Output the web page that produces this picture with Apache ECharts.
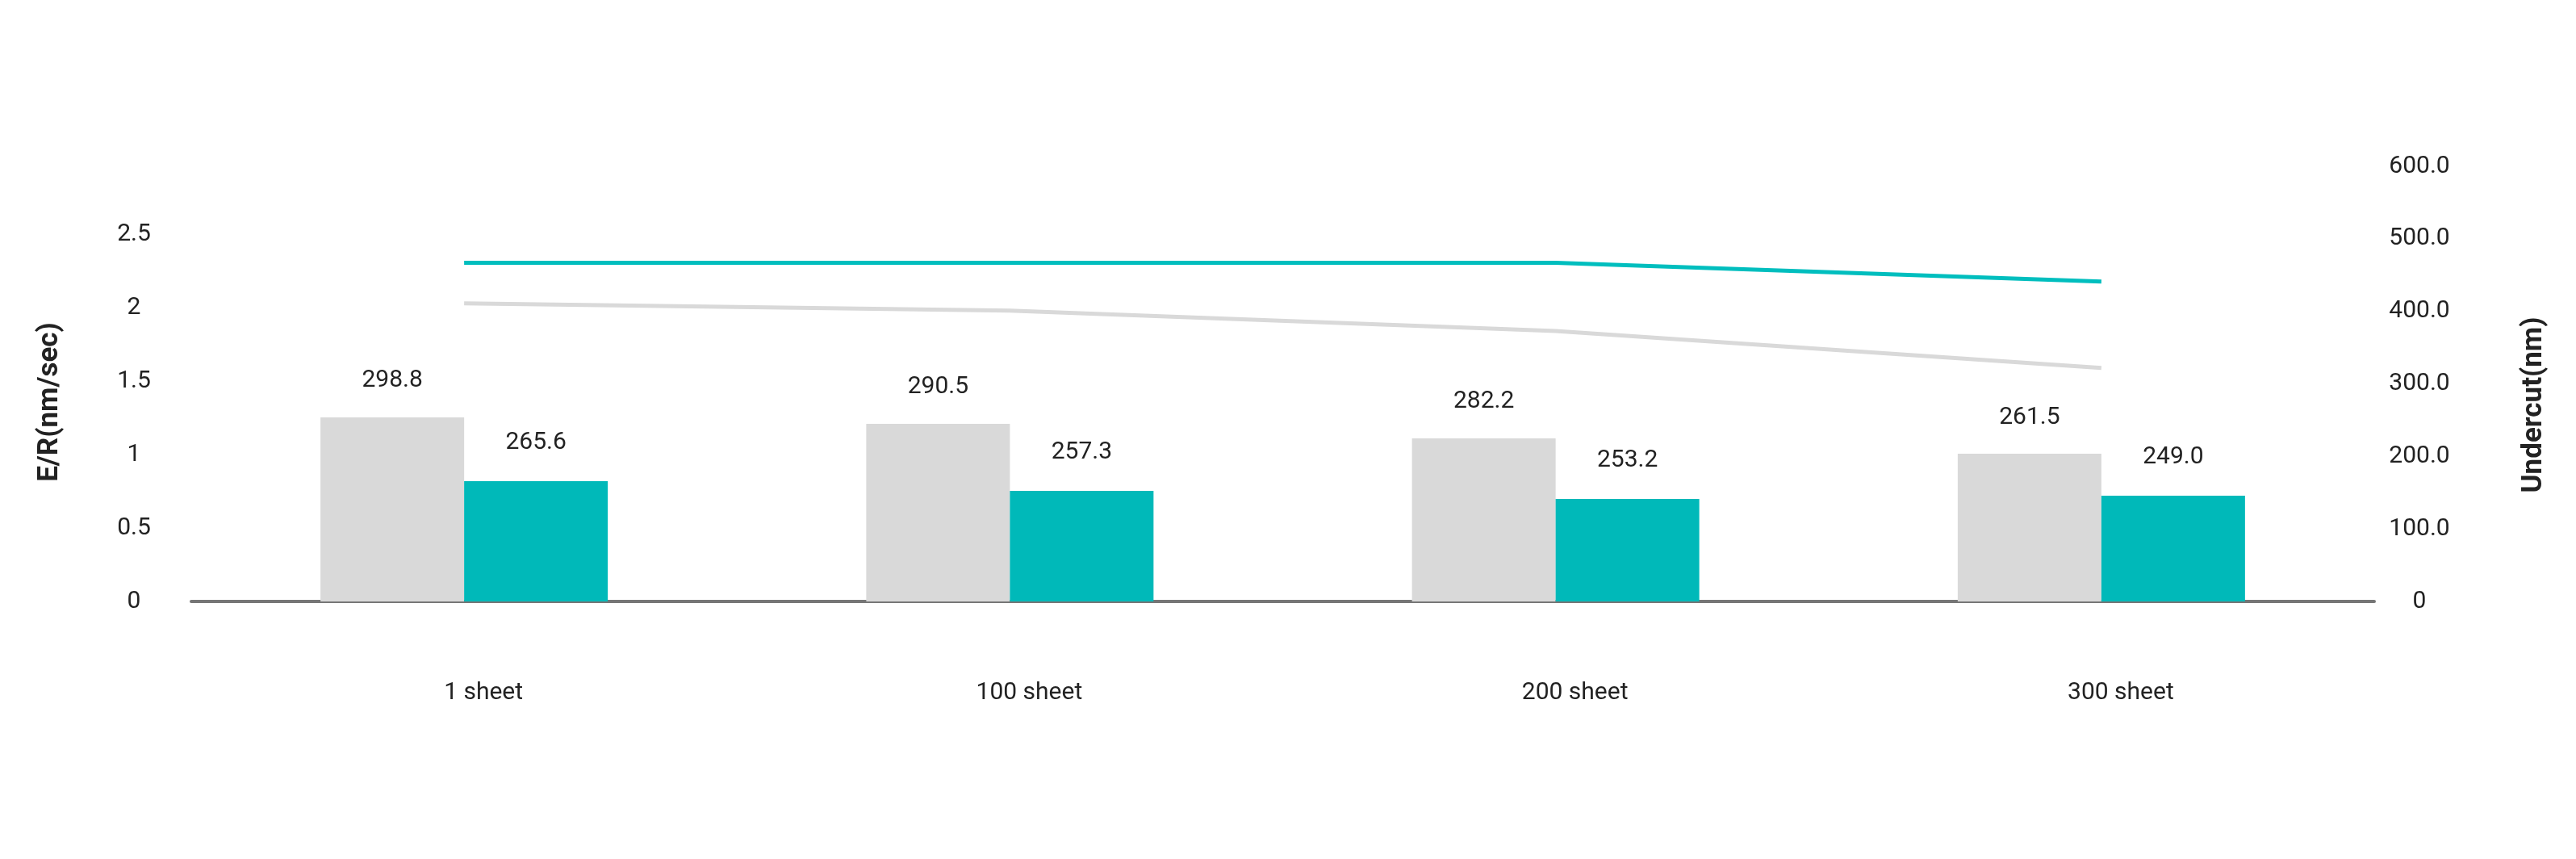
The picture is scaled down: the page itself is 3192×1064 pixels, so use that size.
<!DOCTYPE html>
<html>
<head>
<meta charset="utf-8">
<script src="https://cdn.jsdelivr.net/npm/echarts@6/dist/echarts.min.js"></script>
<style>
html,body{margin:0;padding:0;background:#fff;}
#chart{width:3192px;height:1064px;}
</style>
</head>
<body>
<div id="chart"></div>
<script>
var categories = ['1 sheet', '100 sheet', '200 sheet', '300 sheet'];
var erGray = [1.253, 1.209, 1.11, 1.005];
var erTeal = [0.819, 0.753, 0.698, 0.72];
var labelsGray = ['298.8', '290.5', '282.2', '261.5'];
var labelsTeal = ['265.6', '257.3', '253.2', '249.0'];
var undercutTeal = [467, 467, 467, 441];
var undercutGray = [411, 401, 373, 322];
var leftTicks = [0, 0.5, 1, 1.5, 2, 2.5];

var FONT = 'Roboto';
var TXT = '#222222';
var GRAY = '#D9D9D9';
var TEAL = '#00B9B9';
var TEAL_LINE = '#00BEBE';

var chart = echarts.init(document.getElementById('chart'), null, {renderer: 'canvas'});
chart.setOption({
  backgroundColor: '#ffffff',
  animation: false,
  grid: [
    {left: 237, right: 250, top: 199, bottom: 319, containLabel: false},
    {left: 237, right: 250, top: 206, bottom: 319, containLabel: false}
  ],
  xAxis: [
    {
      type: 'category', gridIndex: 0,
      data: categories,
      axisLine: {show: true, lineStyle: {color: '#767676', width: 4}},
      axisTick: {show: false},
      axisLabel: {
        color: TXT, fontFamily: FONT, fontSize: 30, margin: 98,
        padding: [0, 0, 0, 48]
      },
      splitLine: {show: false}
    },
    {
      type: 'category', gridIndex: 1,
      data: categories,
      axisLine: {show: false}, axisTick: {show: false},
      axisLabel: {show: false}, splitLine: {show: false}
    }
  ],
  yAxis: [
    {
      type: 'value', gridIndex: 0, min: 0, max: 3, interval: 0.5,
      name: 'E/R(nm/sec)', nameLocation: 'middle', nameRotate: 90, nameGap: 157,
      nameTextStyle: {color: TXT, fontFamily: FONT, fontSize: 35, fontWeight: 'bold', padding: [0, 52, 0, 0]},
      axisLine: {show: false}, axisTick: {show: false}, splitLine: {show: false},
      axisLabel: {
        color: TXT, fontFamily: FONT, fontSize: 30, margin: 71, align: 'center',
        formatter: function (v) { return leftTicks.indexOf(v) >= 0 ? String(v) : ''; }
      }
    },
    {
      type: 'value', gridIndex: 1, min: 0, max: 600, interval: 100, position: 'right',
      name: 'Undercut(nm)', nameLocation: 'middle', nameRotate: 90, nameGap: 181,
      nameTextStyle: {color: TXT, fontFamily: FONT, fontSize: 35, fontWeight: 'bold', padding: [0, 52, 0, 0]},
      axisLine: {show: false}, axisTick: {show: false}, splitLine: {show: false},
      axisLabel: {
        color: TXT, fontFamily: FONT, fontSize: 30, margin: 56, align: 'center',
        formatter: function (v) { return v === 0 ? '0' : v.toFixed(1); }
      }
    }
  ],
  series: [
    {
      name: 'E/R gray', type: 'bar', xAxisIndex: 0, yAxisIndex: 0, data: erGray,
      barWidth: 178, barGap: '0%',
      itemStyle: {color: GRAY},
      label: {
        show: true, position: 'top', distance: 30, color: TXT, fontFamily: FONT, fontSize: 30,
        formatter: function (p) { return labelsGray[p.dataIndex]; }
      }
    },
    {
      name: 'E/R teal', type: 'bar', xAxisIndex: 0, yAxisIndex: 0, data: erTeal,
      barWidth: 178, barGap: '0%',
      itemStyle: {color: TEAL},
      label: {
        show: true, position: 'top', distance: 32, color: TXT, fontFamily: FONT, fontSize: 30,
        formatter: function (p) { return labelsTeal[p.dataIndex]; }
      }
    },
    {
      name: 'Undercut teal', type: 'line', xAxisIndex: 1, yAxisIndex: 1, data: undercutTeal,
      symbol: 'none', lineStyle: {color: TEAL_LINE, width: 5}, itemStyle: {color: TEAL_LINE}
    },
    {
      name: 'Undercut gray', type: 'line', xAxisIndex: 1, yAxisIndex: 1, data: undercutGray,
      symbol: 'none', lineStyle: {color: GRAY, width: 5}, itemStyle: {color: GRAY}
    }
  ]
});
</script>
</body>
</html>
